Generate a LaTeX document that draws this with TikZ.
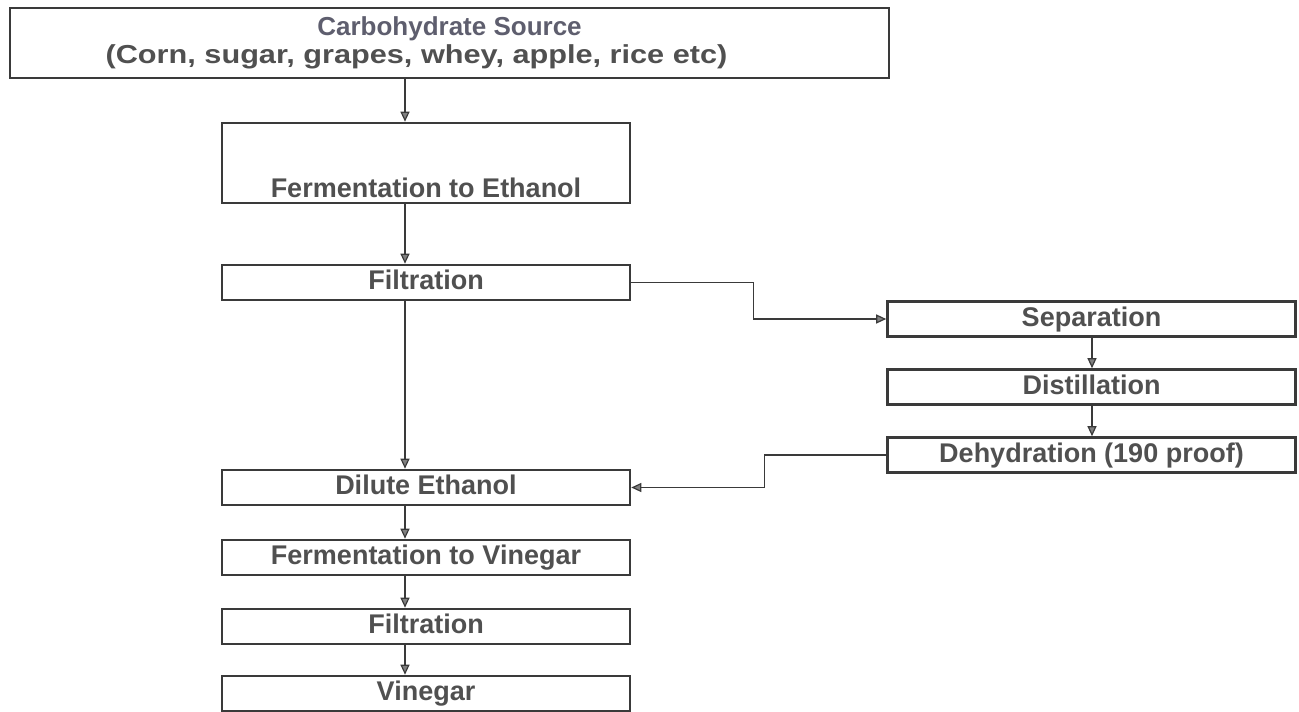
\documentclass[tikz,border=0pt]{standalone}
\usepackage{fontspec}
\setmainfont{Liberation Sans}
\usetikzlibrary{arrows.meta}
\definecolor{boxline}{HTML}{3A3A3A}
\definecolor{txt}{HTML}{505050}
\definecolor{txtb}{HTML}{5E5E6E}
\tikzset{
  stepbox/.style={draw=boxline, line width=2.6pt, fill=white, inner ysep=0pt, inner xsep=2pt,
    font=\bfseries\fontsize{27}{30}\selectfont, text=txt, align=center},
  rowbox/.style={stepbox, minimum width=408pt, minimum height=35pt, text height=19pt, text depth=5pt},
  arr/.style={draw=boxline, line width=1.2pt, -{Triangle[length=10pt,width=9pt,fill=gray]}},
}
\begin{document}
\begin{tikzpicture}[x=1pt,y=-1pt]
\useasboundingbox (0,0) rectangle (1299,712);
\coordinate (col) at (405,0);
\coordinate (rcol) at (1092,0);
\node[stepbox, minimum width=879pt, minimum height=70pt, text=txtb,
      font=\bfseries\fontsize{26}{28}\selectfont] (carb) at (449.5,43)
  {Carbohydrate Source\\
   \textcolor{txt}{\scalebox{1.18}[1]{(Corn, sugar, grapes, whey, apple, rice etc)}}\hspace*{66pt}};
\node[stepbox, minimum width=408pt, text height=74pt, text depth=6pt] (fe) at (426,163) {Fermentation to Ethanol};
\node[rowbox] (f1) at (426,282.5) {Filtration};
\node[rowbox] (sep) at (1091.5,319) {Separation};
\node[rowbox] (dis) at (1091.5,387) {Distillation};
\node[rowbox] (deh) at (1091.5,455) {Dehydration (190 proof)};
\node[rowbox] (dil) at (426,487.5) {Dilute Ethanol};
\node[rowbox] (fv) at (426,557.5) {Fermentation to Vinegar};
\node[rowbox] (f2) at (426,626.5) {Filtration};
\node[rowbox] (vin) at (426,693.5) {Vinegar};
\draw[arr] (carb.south -| col) -- (fe.north -| col);
\draw[arr] (fe.south -| col) -- (f1.north -| col);
\draw[arr] (f1.south -| col) -- (dil.north -| col);
\draw[arr] (dil.south -| col) -- (fv.north -| col);
\draw[arr] (fv.south -| col) -- (f2.north -| col);
\draw[arr] (f2.south -| col) -- (vin.north -| col);
\draw[arr] (sep.south -| rcol) -- (dis.north -| rcol);
\draw[arr] (dis.south -| rcol) -- (deh.north -| rcol);
\draw[arr] (f1.east) -- ++(122,0) |- (sep.west);
\draw[arr] (deh.west) -- ++(-122,0) |- (dil.east);
\end{tikzpicture}
\end{document}
